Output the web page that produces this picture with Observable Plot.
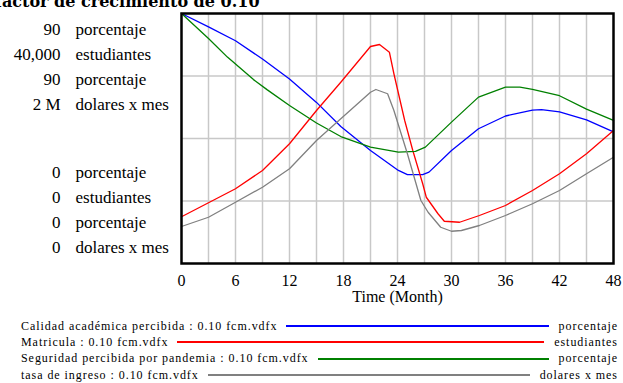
<!DOCTYPE html>
<html><head><meta charset="utf-8">
<script src="https://cdn.jsdelivr.net/npm/d3@7"></script>
<script src="https://cdn.jsdelivr.net/npm/@observablehq/plot@0.6"></script>
<style>
body{margin:0;background:#fff;width:623px;height:383px;overflow:hidden;position:relative;font-family:"Liberation Serif","DejaVu Serif",serif;}
#title{position:absolute;z-index:2;left:-5px;top:-8.5px;font-weight:bold;font-size:16px;font-family:"DejaVu Serif","Liberation Serif",serif;white-space:nowrap;color:#000;line-height:20px}
#chart{position:absolute;left:0;top:0;z-index:1}
#legend{position:absolute;left:21px;top:318px;width:597px;z-index:2}
.row{display:flex;align-items:center;height:16.3px;font-size:12px;font-family:"Liberation Serif","DejaVu Serif",serif;letter-spacing:0.95px;color:#000;white-space:nowrap}
.row .sw{flex:1;height:2px;margin:0 10px 0 9px}
</style>
</head><body>
<div id="chart"></div>
<div id="title">factor de crecimiento de 0.10</div>
<div id="legend"></div>
<script>
// ---- data ----
const months = [0, 6, 12, 18, 24, 30, 36, 42, 48];
const gridMonths = [3, 6, 9, 12, 15, 18, 21, 24, 27, 30, 33, 36, 39, 42, 45];
const gridFractions = [0.25, 0.5, 0.75];

const seriesNames = ["Calidad académica percibida : 0.10 fcm.vdfx", "Matricula : 0.10 fcm.vdfx", "Seguridad percibida por pandemia : 0.10 fcm.vdfx", "tasa de ingreso : 0.10 fcm.vdfx"];
const seriesUnits = ["porcentaje", "estudiantes", "porcentaje", "dolares x mes"];
const seriesMax = [90, 40000, 90, 2000000];
const seriesMaxLabels = ["90", "40,000", "90", "2 M"];
const seriesMinLabels = ["0", "0", "0", "0"];
const seriesColors = ["#0000ff", "#ff0000", "#008000", "#808080"];

const calidadT = [0, 3, 6, 9, 12, 15, 17.7, 21, 24.1, 25.1, 26.8, 27.5, 30, 33, 36, 39, 40, 42, 45, 48];
const calidadV = [90, 85.2, 80.2, 73.6, 66.4, 58.0, 49.3, 40.7, 33.5, 32.0, 32.0, 32.9, 40.7, 48.5, 53.1, 55.2, 55.4, 54.6, 51.7, 47.4];

const matriculaT = [0, 3, 6, 9, 12, 15, 17.7, 21, 22, 23.1, 23.6, 24.8, 25.7, 26.8, 27.2, 28.5, 29.2, 30.9, 33.1, 36, 39, 42, 45, 48];
const matriculaV = [7480, 9720, 11960, 14880, 19160, 24480, 29000, 34720, 35040, 33800, 30360, 22880, 18080, 12760, 10600, 7960, 6760, 6600, 7680, 9280, 11680, 14360, 17560, 21280];

const seguridadT = [0, 3, 5.1, 8, 9.5, 12, 15, 17.7, 21, 24.1, 26, 27.1, 30, 33, 36, 37.6, 39, 42, 45, 48];
const seguridadV = [90, 81.0, 74.3, 66.2, 62.6, 56.9, 50.6, 45.7, 41.9, 40.1, 40.4, 41.9, 50.9, 59.9, 63.5, 63.5, 62.7, 60.4, 55.6, 51.5];

const tasaT = [0, 3, 6, 9, 12, 15, 17.7, 21, 21.6, 22.9, 23.6, 25.1, 26.6, 27.4, 28.8, 30, 31.1, 33.1, 36, 39, 42, 45, 48];
const tasaV = [296000, 370000, 490000, 610000, 758000, 984000, 1158000, 1370000, 1392000, 1358000, 1224000, 878000, 504000, 410000, 290000, 258000, 264000, 304000, 384000, 478000, 584000, 718000, 850000];

const seriesT = [calidadT, matriculaT, seguridadT, tasaT];
const seriesV = [calidadV, matriculaV, seguridadV, tasaV];

// ---- chart ----
const FONT = "'Liberation Serif', 'DejaVu Serif', serif";
const lineMarks = seriesT.map((T, s) =>
  Plot.line(T.map((t, i) => ({t, v: seriesV[s][i]})), {
    x: "t", y: d => d.v / seriesMax[s], stroke: seriesColors[s], strokeWidth: 1.3
  })
);

const topDy = [9.5, 34.5, 59.5, 84.5];
const botDy = [-85.5, -60.5, -35.5, -11];
const labelMarks = [];
seriesUnits.forEach((u, i) => {
  labelMarks.push(Plot.text([seriesMaxLabels[i]], {frameAnchor: "top-left", dx: -121, dy: topDy[i], textAnchor: "end", fontSize: 17, fontFamily: FONT}));
  labelMarks.push(Plot.text([u], {frameAnchor: "top-left", dx: -106, dy: topDy[i], textAnchor: "start", fontSize: 17, fontFamily: FONT}));
  labelMarks.push(Plot.text([seriesMinLabels[i]], {frameAnchor: "bottom-left", dx: -121, dy: botDy[i], textAnchor: "end", fontSize: 17, fontFamily: FONT}));
  labelMarks.push(Plot.text([u], {frameAnchor: "bottom-left", dx: -106, dy: botDy[i], textAnchor: "start", fontSize: 17, fontFamily: FONT}));
});

const chart = Plot.plot({
  width: 623, height: 312,
  marginLeft: 181, marginRight: 10, marginTop: 13, marginBottom: 49,
  x: {domain: [0, 48]},
  y: {domain: [0, 1], axis: null},
  style: {fontFamily: FONT, fontSize: "16px", color: "#000", background: "transparent"},
  marks: [
    Plot.gridX(gridMonths, {stroke: "#c8c8c8", strokeOpacity: 1, strokeWidth: 1.5}),
    Plot.gridY(gridFractions, {stroke: "#c8c8c8", strokeOpacity: 1, strokeWidth: 1.5}),
    Plot.axisX(months, {tickSize: 0, tickPadding: 11, fontSize: 16, fontFamily: FONT, label: null, tickFormat: d => String(d)}),
    ...lineMarks,
    Plot.frame({stroke: "#000", strokeWidth: 2.5}),
    Plot.text(["Time (Month)"], {frameAnchor: "bottom", dy: 38.5, fontSize: 16, fontFamily: FONT}),
    ...labelMarks
  ]
});
document.getElementById("chart").appendChild(chart);

// ---- legend ----
const legend = document.getElementById("legend");
seriesNames.forEach((n, i) => {
  const row = document.createElement("div");
  row.className = "row";
  const a = document.createElement("span"); a.textContent = n;
  const sw = document.createElement("span"); sw.className = "sw"; sw.style.background = seriesColors[i];
  const b = document.createElement("span"); b.textContent = seriesUnits[i];
  row.append(a, sw, b);
  legend.appendChild(row);
});
</script>
</body></html>
